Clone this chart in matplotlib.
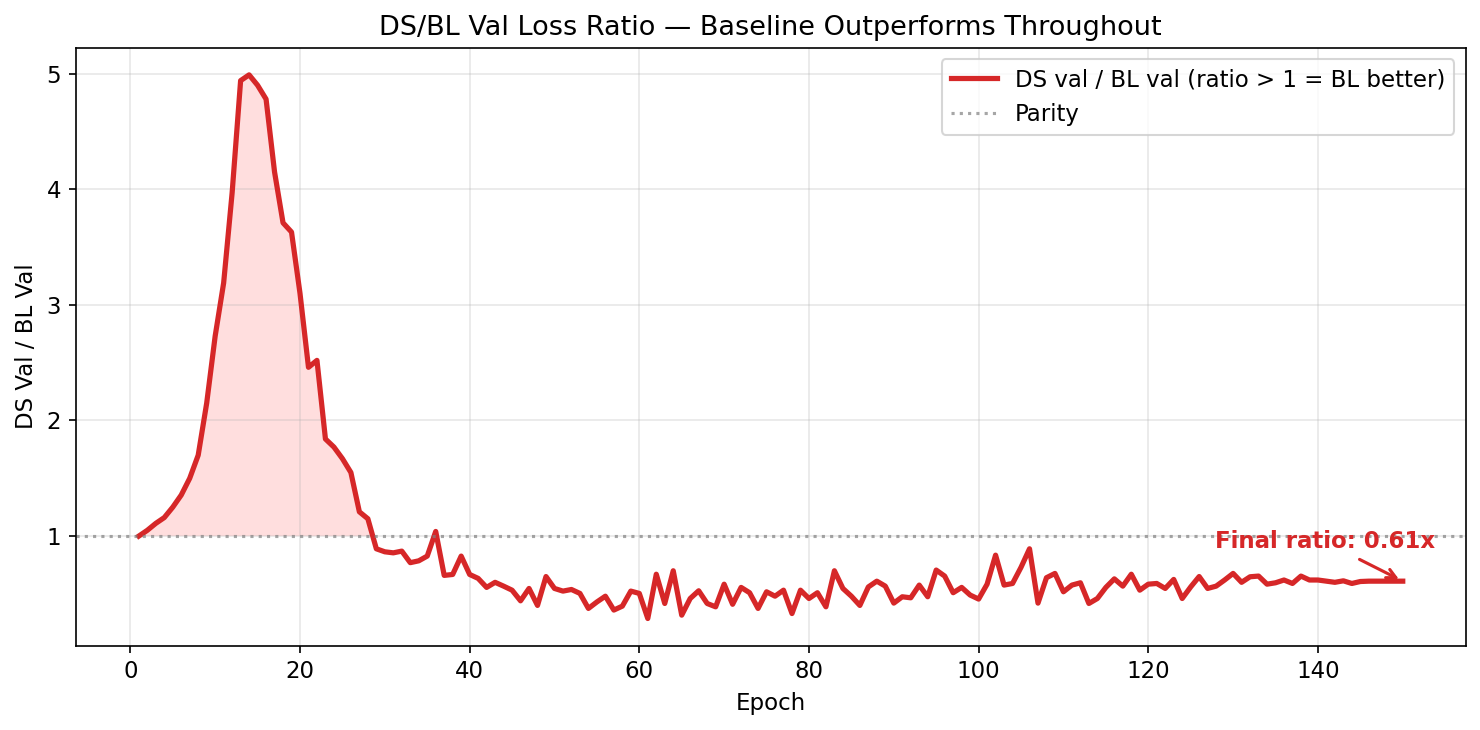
import numpy as np
import matplotlib
matplotlib.use("Agg")
import matplotlib.pyplot as plt

# ratio of DS val loss to BL val loss, one value per epoch (1..150)
ratio_rise = [1.00, 1.05, 1.11, 1.16, 1.25, 1.355, 1.50, 1.70, 2.15, 2.73,
              3.19, 3.97, 4.94, 4.99, 4.90, 4.78, 4.15, 3.71, 3.63, 3.10,
              2.46, 2.52, 1.84, 1.77, 1.67, 1.55, 1.21, 1.15, 0.89, 0.864]
ratio_mid = [0.855, 0.87, 0.77, 0.786, 0.827, 1.04, 0.66, 0.668, 0.827, 0.668,
             0.634, 0.556, 0.60, 0.567, 0.532, 0.44, 0.547, 0.40, 0.65, 0.547,
             0.524, 0.538, 0.504, 0.374, 0.43, 0.48, 0.36, 0.394, 0.524, 0.504,
             0.287, 0.67, 0.417, 0.70, 0.316, 0.46, 0.527, 0.417, 0.388, 0.584,
             0.41, 0.556, 0.51, 0.374, 0.518, 0.48, 0.532, 0.33, 0.532, 0.46,
             0.51, 0.388, 0.70, 0.547, 0.48, 0.40, 0.56, 0.61, 0.567, 0.42]
ratio_late = [0.475, 0.466, 0.576, 0.475, 0.706, 0.654, 0.51, 0.556, 0.49, 0.455,
              0.584, 0.835, 0.576, 0.59, 0.73, 0.89, 0.42, 0.64, 0.677, 0.518,
              0.576, 0.596, 0.417, 0.46, 0.556, 0.63, 0.567, 0.67, 0.532, 0.584,
              0.59, 0.547, 0.625, 0.46, 0.56, 0.65, 0.547, 0.567, 0.62, 0.677,
              0.60, 0.648, 0.654, 0.584, 0.596, 0.62, 0.59, 0.654, 0.62, 0.62,
              0.61, 0.60, 0.613, 0.59, 0.607, 0.61, 0.61, 0.61, 0.61, 0.61]

ratio = np.array(ratio_rise + ratio_mid + ratio_late)
epochs = np.arange(1, len(ratio) + 1)
final_ratio = 0.61

red = "#d62728"
plt.rcParams["font.size"] = 11

fig, ax = plt.subplots(figsize=(9.8667, 4.8667), dpi=150)
fig.subplots_adjust(left=0.0511, right=0.9905, top=0.9347, bottom=0.1155)

ax.plot(epochs, ratio, color=red, lw=2.5,
        label="DS val / BL val (ratio > 1 = BL better)")
ax.axhline(1.0, color="gray", ls=":", lw=1.5, alpha=0.7, label="Parity")
ax.fill_between(epochs, 1.0, ratio, where=ratio > 1, interpolate=True,
                color="red", alpha=0.13, lw=0)

ax.annotate(f"Final ratio: {final_ratio:.2f}x", xy=(epochs[-1], final_ratio),
            xytext=(epochs[-1] - 9.2, final_ratio + 0.34), ha="center", va="center",
            color=red, fontsize=11, fontweight="bold",
            arrowprops=dict(arrowstyle="->", color=red, lw=1.5))

ax.set_title("DS/BL Val Loss Ratio — Baseline Outperforms Throughout", fontsize=13)
ax.set_xlabel("Epoch")
ax.set_ylabel("DS Val / BL Val")
ax.grid(True, alpha=0.3)
ax.legend(loc="upper right")

fig.savefig("out.png", dpi=150)
